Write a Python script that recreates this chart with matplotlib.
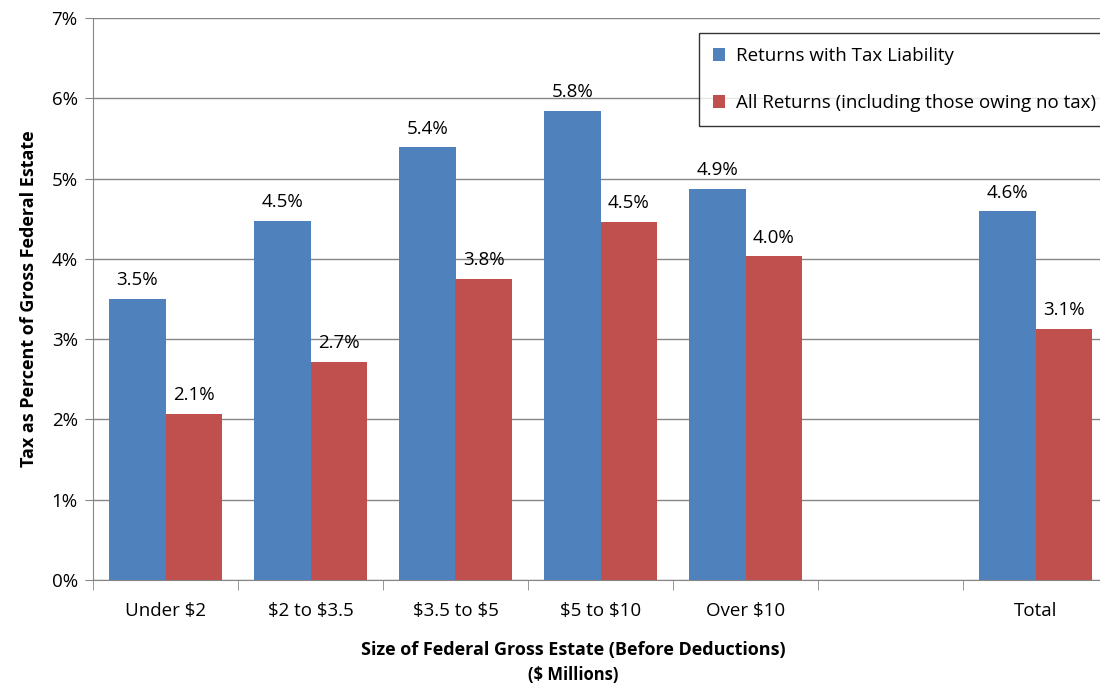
import numpy as np
import matplotlib.pyplot as plt

plt.rcParams.update({'font.family': ['Open Sans', 'DejaVu Sans'],
                     'font.size': 13.5,
                     'text.parse_math': False})

categories = ['Under $2', '$2 to $3.5', '$3.5 to $5', '$5 to $10', 'Over $10', '', 'Total']
liability = [3.50, 4.47, 5.39, 5.84, 4.87, np.nan, 4.59]
all_returns = [2.07, 2.72, 3.75, 4.46, 4.03, np.nan, 3.13]
liability_labels = ['3.5%', '4.5%', '5.4%', '5.8%', '4.9%', '', '4.6%']
all_labels = ['2.1%', '2.7%', '3.8%', '4.5%', '4.0%', '', '3.1%']

BLUE = '#4F81BD'
RED = '#C0504D'
GRID = '#868686'

fig = plt.figure(figsize=(11, 6.86), dpi=100)
ax = fig.add_axes([93/1100, 106/686, 1015/1100, 562/686])

x = np.arange(len(categories))
w = 0.39
b1 = ax.bar(x - w/2, liability, w, color=BLUE, label='Returns with Tax Liability', zorder=3)
b2 = ax.bar(x + w/2, all_returns, w, color=RED, label='All Returns (including those owing no tax)', zorder=3)

for bars, labels in [(b1, liability_labels), (b2, all_labels)]:
    for rect, lab in zip(bars, labels):
        if lab:
            ax.annotate(lab, (rect.get_x() + rect.get_width()/2, rect.get_height()),
                        xytext=(0, 7), textcoords='offset points',
                        ha='center', va='bottom', fontsize=13.5)

ax.set_xlim(-0.5, len(categories) - 0.5)
ax.set_ylim(0, 7)
ax.set_yticks(np.arange(0, 8))
ax.set_yticklabels([f'{i}%' for i in range(8)])
ax.yaxis.grid(True, color=GRID, linewidth=1, zorder=0)

ax.set_xticks(x)
ax.set_xticklabels(categories)
ax.set_xticks(np.arange(-0.5, len(categories)), minor=True)
ax.tick_params(axis='x', which='major', length=0, pad=16)
ax.tick_params(axis='x', which='minor', length=7, color=GRID)
ax.tick_params(axis='y', length=6, color=GRID, pad=5)

for side in ['top', 'right']:
    ax.spines[side].set_visible(False)
ax.spines['left'].set_color(GRID)
ax.spines['bottom'].set_color(GRID)

ax.set_ylabel('Tax as Percent of Gross Federal Estate', fontweight='bold', fontsize=13, labelpad=10)
fig.text(573/1100, (686-650)/686, 'Size of Federal Gross Estate (Before Deductions)',
         ha='center', va='center', fontweight='bold', fontsize=13)
fig.text(573/1100, (686-675)/686, '($ Millions)', ha='center', va='center', fontweight='bold', fontsize=12)

leg = ax.legend(loc='upper left', bbox_to_anchor=(606/1015, 547/562), frameon=True,
                fancybox=False, edgecolor='black', handlelength=0.65, handleheight=0.65,
                handletextpad=0.55, labelspacing=1.55, borderpad=0.75, borderaxespad=0,
                fontsize=13.5)
leg.get_frame().set_linewidth(1)

fig.savefig('out.png', dpi=100)
